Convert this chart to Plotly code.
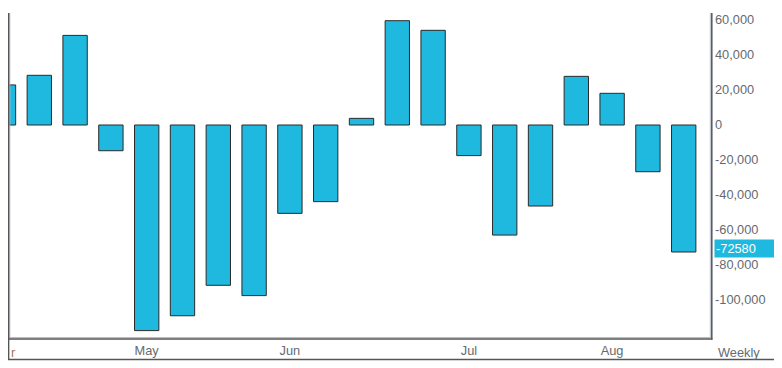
import plotly.graph_objects as go

# Data
week_index = list(range(20))
values = [22900, 28400, 51200, -14700, -117500, -109000, -91600, -97500, -50500, -43800,
          3800, 59600, 54100, -17500, -62900, -46300, 27800, 18100, -26700, -72580]
month_tick_pos = [4, 8, 13, 17]
month_tick_text = ["May", "Jun", "Jul", "Aug"]
y_tick_vals = [60000, 40000, 20000, 0, -20000, -40000, -60000, -80000, -100000]
y_tick_text = ["60,000", "40,000", "20,000", "0", "-20,000", "-40,000", "-60,000", "-80,000", "-100,000"]
last_label = "-72580"

# the page body has an 8px margin; figure occupies page x 8..782, y 8..368
OFF = 8
W, H = 774, 360
L, R, T, B = 0, 70, 5, 31
PW, PH = W - L - R, H - T - B

def px(x):  # page pixel -> paper
    return (x - OFF - L) / PW

def py(y):  # page pixel -> paper
    return (H - B - (y - OFF)) / PH

BAR = "#1fb9e0"
TXT = "#666a70"
DARK = "#555555"
LIGHT = "#b4bccb"
FS = 12.8

fig = go.Figure()
fig.add_trace(go.Bar(
    x=week_index, y=values, width=0.68,
    marker=dict(color=BAR, line=dict(color="#2a2a2a", width=1)),
    hoverinfo="y",
))

shapes = []
def line(x0, y0, x1, y1, color, w):
    shapes.append(dict(type="line", xref="paper", yref="paper",
                       x0=px(x0), y0=py(y0), x1=px(x1), y1=py(y1),
                       line=dict(color=color, width=w), layer="above"))

# light inner lines
line(9.8, 13, 9.8, 337, LIGHT, 1)
line(8, 337.5, 711, 337.5, LIGHT, 1)
line(710.3, 13, 710.3, 338, LIGHT, 1)
# dark lines
line(8.6, 13, 8.6, 360, DARK, 1.5)
line(8, 339, 712.5, 339, DARK, 1.5)
line(711.8, 13, 711.8, 339.5, DARK, 1.5)
line(8, 359.5, 775.5, 359.5, DARK, 1.5)
line(775, 13, 775, 360, DARK, 1.5)

fig.update_layout(
    width=W, height=H,
    margin=dict(l=L, r=R, t=T, b=B, autoexpand=False),
    paper_bgcolor="white", plot_bgcolor="white",
    showlegend=False,
    font=dict(family="Liberation Sans, Arial, sans-serif", size=FS, color=TXT),
    bargap=0.32,
    shapes=shapes,
    xaxis=dict(
        range=[0.126, 19.79], showgrid=False, zeroline=False, showline=False,
        tickmode="array", tickvals=month_tick_pos, ticktext=month_tick_text,
        ticks="", ticklabelstandoff=4, tickfont=dict(size=FS, color=TXT),
    ),
    yaxis=dict(
        side="right", range=[-121143, 64000], showgrid=False, zeroline=False,
        showline=False, tickmode="array", tickvals=y_tick_vals, ticktext=y_tick_text,
        ticks="", ticklabelstandoff=2, tickfont=dict(size=FS, color=TXT),
    ),
    annotations=[
        dict(xref="paper", yref="paper", x=px(8.5), y=py(352), text="r", showarrow=False,
             xanchor="left", yanchor="middle", font=dict(size=FS, color="#a07850")),
        dict(xref="paper", yref="paper", x=px(716), y=py(352), text="Weekly", showarrow=False,
             xanchor="left", yanchor="middle", font=dict(size=FS, color=TXT)),
        dict(xref="paper", yref="y", x=px(714.3), y=values[-1], yshift=4, text=last_label,
             showarrow=False, xanchor="left", yanchor="middle", bgcolor=BAR,
             width=57, align="left", borderpad=1,
             font=dict(size=FS, color="white")),
    ],
)

fig.write_html("out.html")
